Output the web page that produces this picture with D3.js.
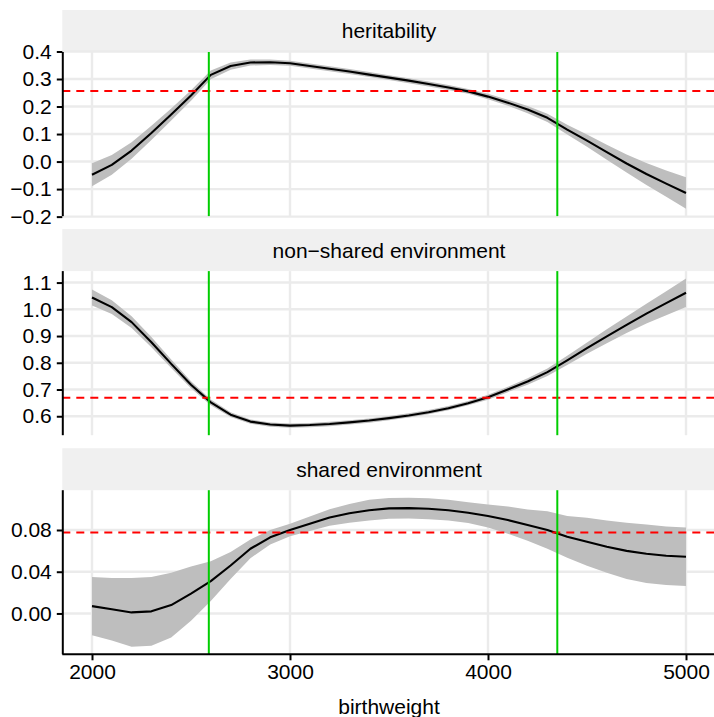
<!DOCTYPE html>
<html>
<head>
<meta charset="utf-8">
<script src="https://cdn.jsdelivr.net/npm/d3@7"></script>
<style>
  html, body { margin: 0; padding: 0; background: #ffffff; }
  svg { display: block; }
  text { font-family: "Liberation Sans", Arial, Helvetica, sans-serif; fill: #000; }
</style>
</head>
<body>
<svg id="chart" width="714" height="717"></svg>
<script>
// Birthweight grid (grams)
const birthweight = [2000, 2100, 2200, 2300, 2400, 2500, 2600, 2700, 2800, 2900, 3000,
  3100, 3200, 3300, 3400, 3500, 3600, 3700, 3800, 3900, 4000,
  4100, 4200, 4300, 4400, 4500, 4600, 4700, 4800, 4900, 5000];

// Heritability estimate and half-width of its interval
const heritability = [-0.048, -0.012, 0.040, 0.104, 0.171, 0.240, 0.315, 0.347, 0.360, 0.361, 0.357,
  0.347, 0.337, 0.327, 0.316, 0.305, 0.294, 0.282, 0.269, 0.255, 0.236,
  0.214, 0.189, 0.159, 0.116, 0.076, 0.034, -0.007, -0.045, -0.080, -0.114];
const heritabilityHW = [0.042, 0.036, 0.030, 0.026, 0.022, 0.019, 0.016, 0.013, 0.011, 0.010, 0.009,
  0.009, 0.009, 0.009, 0.009, 0.009, 0.009, 0.009, 0.009, 0.009, 0.010,
  0.011, 0.013, 0.015, 0.018, 0.022, 0.027, 0.033, 0.040, 0.048, 0.057];

// Non-shared environment estimate and half-width
const nonShared = [1.044, 1.008, 0.952, 0.877, 0.796, 0.718, 0.652, 0.606, 0.580, 0.569, 0.565,
  0.567, 0.571, 0.577, 0.584, 0.593, 0.603, 0.615, 0.630, 0.649, 0.671,
  0.700, 0.730, 0.765, 0.809, 0.855, 0.899, 0.942, 0.984, 1.023, 1.062];
const nonSharedHW = [0.030, 0.026, 0.022, 0.019, 0.016, 0.013, 0.011, 0.009, 0.008, 0.008, 0.008,
  0.008, 0.008, 0.008, 0.008, 0.008, 0.008, 0.008, 0.008, 0.008, 0.009,
  0.010, 0.012, 0.014, 0.017, 0.021, 0.026, 0.031, 0.037, 0.045, 0.053];

// Shared environment estimate and half-width
const shared = [0.007, 0.004, 0.001, 0.002, 0.008, 0.019, 0.031, 0.046, 0.062, 0.073, 0.080,
  0.086, 0.092, 0.096, 0.099, 0.1007, 0.101, 0.1004, 0.099, 0.0966, 0.0934,
  0.0895, 0.0847, 0.080, 0.0735, 0.0687, 0.064, 0.060, 0.0572, 0.0553, 0.0543];
const sharedHW = [0.028, 0.030, 0.033, 0.033, 0.031, 0.026, 0.019, 0.013, 0.009, 0.007, 0.006,
  0.007, 0.008, 0.009, 0.010, 0.010, 0.010, 0.010, 0.010, 0.010, 0.011,
  0.013, 0.015, 0.018, 0.020, 0.023, 0.025, 0.027, 0.028, 0.028, 0.028];

// Facet titles, reference levels and tick labels
const facetTitles = ["heritability", "non\u2212shared environment", "shared environment"];
const referenceLevels = [0.256, 0.669, 0.0775];
const cutoffs = [2590, 4350];
const yTicks = [
  [-0.2, -0.1, 0.0, 0.1, 0.2, 0.3, 0.4],
  [0.6, 0.7, 0.8, 0.9, 1.0, 1.1],
  [0.00, 0.04, 0.08]
];
const yTickFormats = [".1f", ".1f", ".2f"];
const xTicks = [2000, 3000, 4000, 5000];

const series = [
  { est: heritability, hw: heritabilityHW },
  { est: nonShared, hw: nonSharedHW },
  { est: shared, hw: sharedHW }
];

// Layout
const svg = d3.select("#chart");
const left = 62.3, right = 715.7;
const top0 = 10, stripH = 42, panelH = 164.1, gap = 13;
const fontSize = 21;

const xExt = d3.extent(birthweight);
const xPad = (xExt[1] - xExt[0]) * 0.05;
const x = d3.scaleLinear().domain([xExt[0] - xPad, xExt[1] + xPad]).range([left, right]);

const minusFmt = f => v => d3.format(f)(v).replace("-", "\u2212");

series.forEach((s, i) => {
  const stripTop = top0 + i * (stripH + panelH + gap);
  const pTop = stripTop + stripH;
  const pBot = pTop + panelH;

  const rows = birthweight.map((bw, k) => ({ bw, est: s.est[k], lo: s.est[k] - s.hw[k], hi: s.est[k] + s.hw[k] }));
  const lo = d3.min(rows, d => d.lo), hi = d3.max(rows, d => d.hi);
  const pad = (hi - lo) * 0.05;
  const y = d3.scaleLinear().domain([lo - pad, hi + pad]).range([pBot, pTop]);

  const g = svg.append("g");

  // strip
  g.append("rect").attr("x", left).attr("y", stripTop).attr("width", 714 - left).attr("height", stripH)
    .attr("fill", "#f0f0f0");
  g.append("text").attr("x", (left + right) / 2).attr("y", stripTop + stripH / 2 + fontSize * 0.355)
    .attr("text-anchor", "middle").style("font-size", fontSize + "px").text(facetTitles[i]);

  // grid
  const grid = g.append("g").attr("stroke", "#ebebeb").attr("stroke-width", 2.4);
  grid.selectAll(".gy").data(yTicks[i]).join("line")
    .attr("x1", left).attr("x2", right).attr("y1", d => y(d)).attr("y2", d => y(d));
  grid.selectAll(".gx").data(xTicks).join("line")
    .attr("x1", d => x(d)).attr("x2", d => x(d)).attr("y1", pTop).attr("y2", pBot);

  // ribbon and line
  g.append("path").datum(rows)
    .attr("d", d3.area().x(d => x(d.bw)).y0(d => y(d.lo)).y1(d => y(d.hi)))
    .attr("fill", "#bebebe");
  g.append("path").datum(rows)
    .attr("d", d3.line().x(d => x(d.bw)).y(d => y(d.est)))
    .attr("fill", "none").attr("stroke", "#000").attr("stroke-width", 2.1)
    .attr("stroke-linejoin", "round");

  // reference level
  g.append("line").attr("x1", left).attr("x2", 714).attr("y1", y(referenceLevels[i])).attr("y2", y(referenceLevels[i]))
    .attr("stroke", "#ff0000").attr("stroke-width", 2).attr("stroke-dasharray", "8,6");

  // cutoffs
  g.selectAll(".cut").data(cutoffs).join("line")
    .attr("x1", d => x(d)).attr("x2", d => x(d)).attr("y1", pTop).attr("y2", pBot)
    .attr("stroke", "#00cd00").attr("stroke-width", 2);

  // y axis
  const yAxis = g.append("g").attr("transform", `translate(${left},0)`)
    .call(d3.axisLeft(y).tickValues(yTicks[i]).tickFormat(minusFmt(yTickFormats[i])).tickSize(5.5).tickPadding(5));
  yAxis.select(".domain").attr("d", `M0.5,${pTop}V${pBot}`).attr("stroke-width", 2).attr("stroke", "#000");
  yAxis.selectAll(".tick line").attr("stroke-width", 2).attr("stroke", "#000");
  yAxis.selectAll(".tick text").style("font-size", fontSize + "px").attr("font-family", null).attr("fill", "#000");

  // x axis on the bottom facet only
  if (i === series.length - 1) {
    const xAxis = g.append("g").attr("transform", `translate(0,${pBot})`)
      .call(d3.axisBottom(x).tickValues(xTicks).tickFormat(d3.format("d")).tickSize(6).tickPadding(4));
    xAxis.select(".domain").attr("d", `M${left},0H714`).attr("stroke-width", 2).attr("stroke", "#000");
    xAxis.selectAll(".tick line").attr("stroke-width", 2).attr("stroke", "#000");
    xAxis.selectAll(".tick text").style("font-size", fontSize + "px").attr("font-family", null).attr("fill", "#000");
  }
});

svg.attr("font-family", null);
svg.append("text").attr("x", (left + right) / 2).attr("y", 714)
  .attr("text-anchor", "middle").style("font-size", fontSize + "px").text("birthweight");
</script>
</body>
</html>
